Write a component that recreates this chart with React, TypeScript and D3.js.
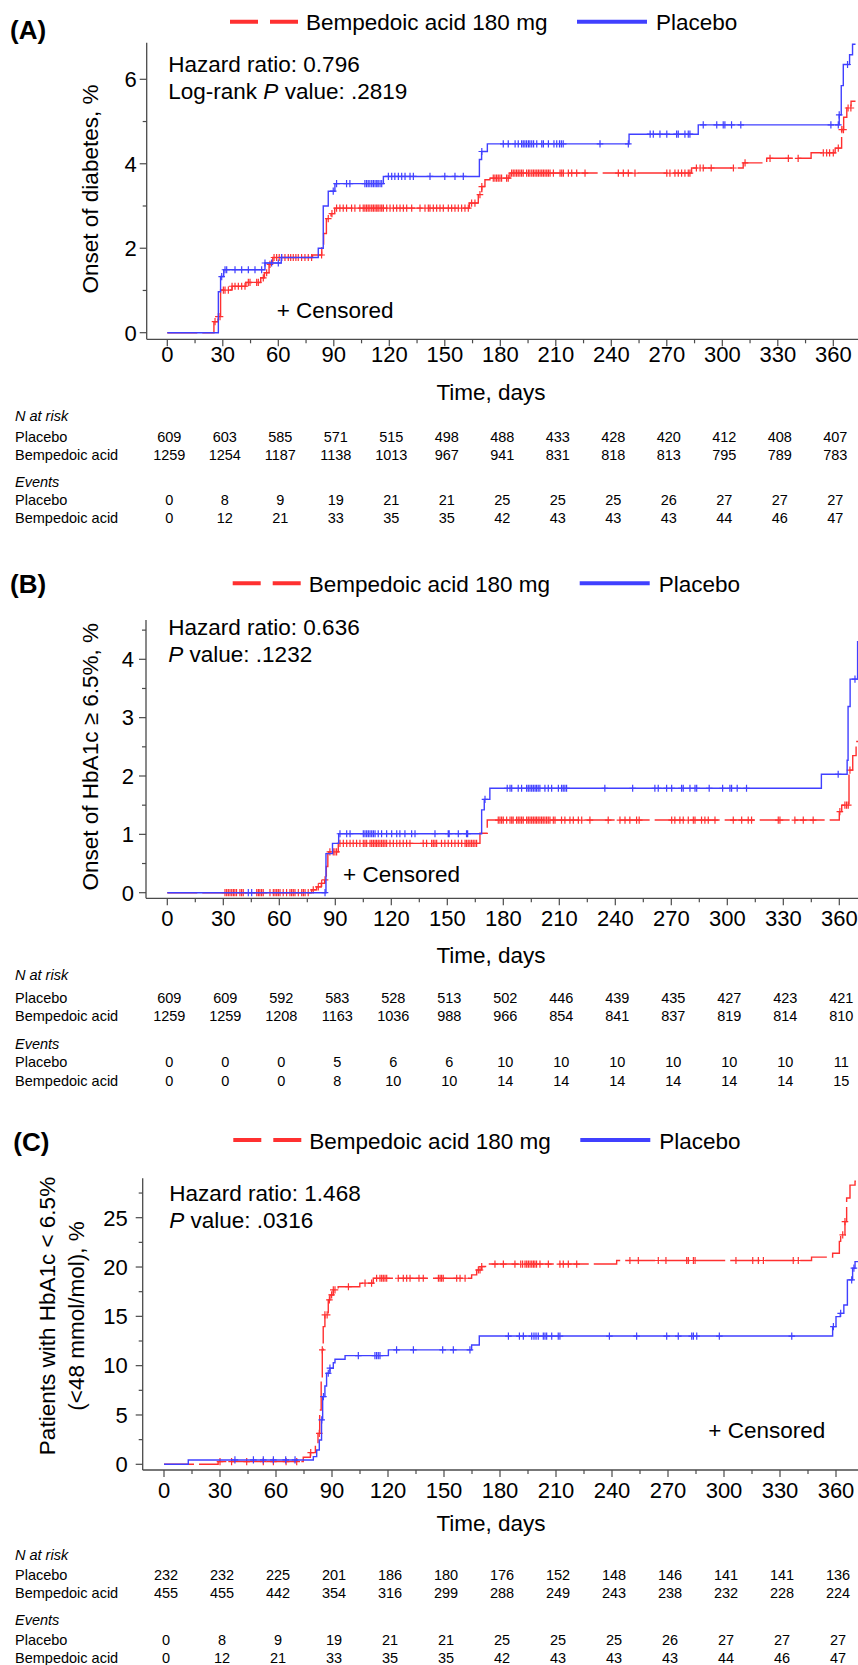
import React from "react";
import * as d3 from "d3";

const W = 858;
const H = 1665;
const FONT = "'Liberation Sans', Arial, Helvetica, sans-serif";
const RED = "#ff3030";
const BLUE = "#4040ff";

const dayTicks = [0, 30, 60, 90, 120, 150, 180, 210, 240, 270, 300, 330, 360];
const minorDayTicks = [15, 45, 75, 105, 135, 165, 195, 225, 255, 285, 315, 345];
const tableRows = ["Placebo", "Bempedoic acid"];

// ---------- Panel A: onset of diabetes ----------
const aPlaceboSteps = [
  [0, 0], [27.6, 0.97], [28.8, 1.33], [30.5, 1.49], [52.8, 1.65], [61.6, 1.78], [81.6, 2.0],
  [84.3, 3.0], [87, 3.35], [90.6, 3.53], [116.8, 3.7], [168.7, 4.1], [169.9, 4.29], [173, 4.47],
  [249.6, 4.7], [287, 4.92], [363.2, 5.16], [364.3, 5.85], [365.4, 6.35], [368.8, 6.58],
  [370.4, 6.83], [372, 6.83],
];
const aBempSteps = [
  [0, 0], [25.2, 0.26], [27.4, 0.38], [28.8, 1.01], [35, 1.1], [42.5, 1.19], [50.5, 1.3],
  [52.5, 1.42], [55, 1.62], [57, 1.78], [78.5, 1.84], [83.5, 2.1], [84.5, 2.35], [86, 2.7],
  [88.5, 2.82], [90.5, 2.95], [163.3, 3.07], [168.1, 3.27], [170, 3.46], [171.7, 3.62],
  [174.4, 3.66], [185.2, 3.78], [283.4, 3.9], [311.3, 4.02], [324, 4.13], [348, 4.26],
  [361, 4.37], [364.5, 4.81], [365.6, 5.1], [367.3, 5.32], [369.6, 5.48], [372, 5.48],
];
const aPlaceboCensor = [
  29.4, 31.2, 32.1, 36.6, 40.2, 43.8, 47.4, 51, 52.8, 56.4, 60, 61.8, 89.7, 91.5, 96.9, 98.7,
  106.8, 107.7, 108.6, 109.5, 110.5, 111.4, 112.3, 113.2, 114, 115, 115.9, 119.5, 121.3, 123,
  124.9, 126.7, 128.5, 131.2, 133, 142, 150, 155.5, 160, 170, 181.6, 184.3, 188, 189.7, 191.5,
  192.4, 193.3, 194.2, 195.2, 196, 197, 198, 199.7, 202.4, 203.3, 206, 209, 210.5, 212, 213,
  214, 233.9, 249.2, 261, 262.7, 266.3, 270, 275.3, 276.2, 279.8, 281.6, 282.5, 289.7, 297,
  300.5, 301.4, 305, 310, 358.7, 362.7, 363.2, 367.7,
];
const aBempCensor = [
  25.8, 27.6, 28.5, 30.3, 31.2, 33, 35, 36.6, 38.4, 40.2, 42, 43.8, 44.7, 48.3, 49.2, 51.9,
  53.7, 55.5, 57.7, 59.1, 60.5, 61.8, 63.6, 65.4, 66.7, 68.1, 69.5, 70.8, 72.6, 74.4, 76.2, 78,
  83.4, 87, 89, 91.5, 93.3, 95.1, 96.9, 99.6, 101.4, 104.1, 105.9, 106.8, 107.7, 108.6, 109.5,
  110.5, 111.4, 112.3, 113.2, 114, 115, 115.9, 116.8, 118.6, 120.4, 122.2, 124, 125.8, 127.6,
  129.4, 132.1, 136.6, 139.3, 141.1, 142, 143.8, 145.6, 147.4, 149.2, 151.9, 153.7, 155.5,
  157.3, 159.1, 160.9, 162.7, 164.5, 166.3, 169, 170, 176.2, 177.1, 178, 178.9, 179.8, 180.7,
  183.4, 184.3, 186.1, 187, 187.9, 188.8, 189.7, 190.6, 191.5, 192.4, 194.2, 195.2, 196, 197,
  197.9, 198.8, 199.7, 200.6, 201.5, 202.4, 203.3, 204.2, 205.1, 206, 206.9, 208.7, 212.3,
  213.2, 214.1, 216.8, 218.6, 221.3, 225.8, 243.8, 246.5, 249.2, 252.8, 270, 271.7, 274.4,
  276.2, 278, 279.8, 281.6, 282.5, 286, 288, 289.7, 294, 306, 312.3, 325.8, 335.7, 341, 354.6,
  356.4, 358, 360, 362.7, 364.6, 365.5, 368, 369.5,
];
const aRiskPlacebo = [609, 603, 585, 571, 515, 498, 488, 433, 428, 420, 412, 408, 407];
const aRiskBemp = [1259, 1254, 1187, 1138, 1013, 967, 941, 831, 818, 813, 795, 789, 783];
const aEventsPlacebo = [0, 8, 9, 19, 21, 21, 25, 25, 25, 26, 27, 27, 27];
const aEventsBemp = [0, 12, 21, 33, 35, 35, 42, 43, 43, 43, 44, 46, 47];

// ---------- Panel B: onset of HbA1c >= 6.5% ----------
const bPlaceboSteps = [
  [0, 0], [85, 0.67], [88.5, 0.845], [91.8, 1.01], [168.4, 1.42], [169.8, 1.6], [172.8, 1.79],
  [350.4, 2.03], [364.2, 2.27], [364.7, 3.19], [365.8, 3.66], [369.8, 4.3], [372, 4.3],
];
const bBempSteps = [
  [0, 0], [77.3, 0.05], [80, 0.1], [82.5, 0.16], [84.3, 0.22], [85.2, 0.45], [86, 0.67],
  [86.5, 0.7], [91.6, 0.845], [167.5, 1.02], [171.4, 1.245], [360, 1.39], [361.3, 1.5],
  [365.2, 2.1], [367.2, 2.35], [369, 2.59], [372, 2.59],
];
const bPlaceboCensor = [
  43.4, 45.2, 84.5, 92.5, 96.1, 97.9, 105, 105.9, 106.8, 107.7, 108.6, 109.5, 110.4, 111.3,
  113, 114.8, 117.5, 120.2, 122.9, 124.6, 127.3, 130.9, 132.7, 143.4, 150.5, 151, 155.9, 160.3,
  160.9, 170.2, 182.1, 183.6, 184.5, 188, 189.8, 192.5, 193.4, 194.3, 195.2, 196.1, 197, 197.8,
  198.7, 199.6, 202.3, 204.1, 205.9, 209.5, 211.2, 212.1, 213, 213.9, 234.4, 249.3, 261.2, 263,
  267.5, 270.2, 275.5, 276.4, 280, 282.7, 283.6, 290.3, 297.5, 301.4, 302.3, 305.3, 310.3,
  359.4, 368.4,
];
const bBempCensor = [
  30.9, 31.8, 32.7, 33.6, 34.5, 35.4, 36.2, 37.1, 38.9, 39.8, 40.7, 47.9, 48.8, 49.6, 50.5,
  51.4, 55, 56.8, 57.7, 58.6, 59.5, 60.4, 62.1, 63.9, 65.7, 66.6, 67.5, 68.4, 70.2, 72, 72.9,
  73.8, 75.5, 78.2, 80.9, 82.7, 84.5, 87.1, 88.9, 89.8, 90.7, 92.5, 94.3, 96.1, 97.9, 99.6,
  101.4, 103.2, 105, 105.9, 106.8, 108.6, 109.5, 110.4, 111.3, 112.1, 113, 113.9, 114.8, 115.7,
  116.6, 117.5, 119.3, 121.1, 122.9, 124.6, 126.4, 128.2, 130, 137.1, 138.9, 141.6, 142.5,
  143.4, 144.3, 146.9, 148.7, 150.5, 152.3, 154.1, 155.9, 157.7, 159.5, 160.3, 161.2, 162.1,
  163, 163.9, 164.8, 165.7, 177.3, 178.2, 179.1, 180, 181.8, 183.6, 184.5, 185.3, 187.1, 188,
  188.9, 189.8, 190.7, 192.5, 193.4, 194.3, 195.2, 196.1, 197, 197.8, 198.7, 199.6, 200.5,
  201.4, 202.3, 203.2, 204.1, 205, 206.8, 207.7, 211.2, 213, 215.7, 217.5, 220.2, 222, 226.4,
  236.2, 242.5, 245.2, 247.8, 251.4, 252.8, 270.2, 271.9, 274.6, 276.4, 279.1, 281.8, 282.7,
  286.2, 288, 289.8, 293.4, 303.2, 307.7, 311.2, 313, 327.3, 328.2, 336.2, 340.7, 346, 360.3,
  363, 363.9, 364.8, 365.7,
];
const bRiskPlacebo = [609, 609, 592, 583, 528, 513, 502, 446, 439, 435, 427, 423, 421];
const bRiskBemp = [1259, 1259, 1208, 1163, 1036, 988, 966, 854, 841, 837, 819, 814, 810];
const bEventsPlacebo = [0, 0, 0, 5, 6, 6, 10, 10, 10, 10, 10, 10, 11];
const bEventsBemp = [0, 0, 0, 8, 10, 10, 14, 14, 14, 14, 14, 14, 15];

// ---------- Panel C: HbA1c < 6.5% ----------
const cPlaceboSteps = [
  [0, 0], [13, 0.44], [80, 0.78], [81.8, 1.45], [83.2, 2.47], [84.4, 4.5], [85, 6.86],
  [86.2, 7.94], [87.1, 9.23], [88.9, 9.74], [90.7, 10.3], [91.6, 10.65], [97, 11.02],
  [120.2, 11.6], [164.8, 12.1], [168.9, 13.0], [358.2, 13.96], [360, 14.97], [362.3, 15.3],
  [364.2, 16.15], [366.1, 18.7], [368.9, 19.88], [370.2, 20.55], [372, 20.55],
];
const cBempSteps = [
  [0, 0], [29, 0.27], [74.6, 0.71], [78.4, 1.18], [81.1, 1.96], [82.5, 3.14], [83.4, 5.5],
  [84.2, 8.55], [84.8, 11.6], [85.3, 13.96], [86.2, 15.15], [88, 16.67], [88.9, 17.17],
  [90.7, 17.68], [93.3, 18.0], [104.9, 18.36], [112.1, 18.86], [164.8, 19.2], [167.5, 19.7],
  [170.2, 20.05], [173.8, 20.3], [242.5, 20.66], [346.9, 21.0], [358.2, 21.4], [361.8, 22.6],
  [362.5, 23.25], [364.8, 24.6], [365.7, 27.0], [367.5, 28.3], [370.2, 28.7], [372, 28.7],
];
const cPlaceboCensor = [
  38, 47.9, 53.2, 58.6, 65.2, 70.2, 84.5, 85.4, 88, 88.9, 104.1, 113, 113.9, 114.8, 115.7,
  124.6, 133.6, 149.3, 155, 163.9, 184.5, 190.4, 192.5, 197, 198.2, 199.3, 200.5, 203.2, 204.1,
  205, 207.7, 211.2, 212.1, 238.6, 253.2, 269.3, 275.5, 282.7, 283.6, 285.4, 297.5, 336.3,
  358.6, 362.5, 368.4, 369.6,
];
const cBempCensor = [
  30, 36.2, 44.3, 53.2, 58.6, 65.4, 71.1, 78.6, 83.2, 84.8, 86.2, 87.4, 88.6, 89.8, 90.7, 91.6,
  98.8, 107.7, 111.2, 113.9, 115.7, 116.6, 117.5, 118.4, 119.3, 125.5, 128.2, 130, 131.8, 136.6,
  138.9, 147, 147.9, 148.7, 149.6, 156.8, 158.6, 161.3, 168.4, 169.3, 170.2, 177.3, 181.8, 188,
  191.1, 192.1, 193.4, 194.3, 195.2, 196.1, 197, 197.9, 198.7, 199.6, 201.4, 205.9, 212.1,
  213.9, 216.6, 221.1, 249.6, 254.1, 264.8, 268.9, 280, 280.9, 283.6, 284.5, 306.4, 315.4,
  318.4, 321.1, 337.1, 339.8, 363.6, 364.8,
];
const cRiskPlacebo = [232, 232, 225, 201, 186, 180, 176, 152, 148, 146, 141, 141, 136];
const cRiskBemp = [455, 455, 442, 354, 316, 299, 288, 249, 243, 238, 232, 228, 224];
const cEventsPlacebo = [0, 8, 9, 19, 21, 21, 25, 25, 25, 26, 27, 27, 27];
const cEventsBemp = [0, 12, 21, 33, 35, 35, 42, 43, 43, 43, 44, 46, 47];

const panels = [
  {
    tag: "(A)", tagX: 10, tagY: 39.3,
    legendX: 230, legendLineY: 21.7, legendY: 29.5,
    axisX: 146.7, axisTop: 42.7, axisY: 339.3,
    x0: 167.3, x360: 833.3,
    yDomain: [0, 6], yRange: [332.7, 79.3],
    yMajor: [0, 2, 4, 6], yMinor: [1, 3, 5], yLabelGap: 10,
    yTitle: ["Onset of diabetes, %"], yTitleX: [97.5], yTitleY: 189,
    hr: "Hazard ratio: 0.796", pPrefix: "Log-rank ", pValue: ".2819",
    hrX: 168.3, hrY: [72, 99],
    censX: 276.7, censY: 318.3,
    tickLabelY: 362, timeY: 400,
    rowsY: [421, 441.5, 459.5, 487, 505, 523],
    placebo: aPlaceboSteps, bemp: aBempSteps,
    placeboCensor: aPlaceboCensor, bempCensor: aBempCensor,
    risk: [aRiskPlacebo, aRiskBemp], events: [aEventsPlacebo, aEventsBemp],
  },
  {
    tag: "(B)", tagX: 10, tagY: 593.3,
    legendX: 232.7, legendLineY: 583.3, legendY: 591.7,
    axisX: 146, axisTop: 620, axisY: 898.3,
    x0: 167.3, x360: 839.3,
    yDomain: [0, 4], yRange: [892.7, 659.3],
    yMajor: [0, 1, 2, 3, 4], yMinor: [0.5, 1.5, 2.5, 3.5, 4.5], yLabelGap: 12,
    yTitle: ["Onset of HbA1c \u2265 6.5%, %"], yTitleX: [98], yTitleY: 756.7,
    hr: "Hazard ratio: 0.636", pPrefix: "", pValue: ".1232",
    hrX: 168.3, hrY: [635, 661.7],
    censX: 343, censY: 881.7,
    tickLabelY: 926, timeY: 963,
    rowsY: [980, 1003, 1021, 1049, 1067, 1086],
    placebo: bPlaceboSteps, bemp: bBempSteps,
    placeboCensor: bPlaceboCensor, bempCensor: bBempCensor,
    risk: [bRiskPlacebo, bRiskBemp], events: [bEventsPlacebo, bEventsBemp],
  },
  {
    tag: "(C)", tagX: 13.3, tagY: 1150.7,
    legendX: 233.3, legendLineY: 1140, legendY: 1149.3,
    axisX: 142.7, axisTop: 1178.3, axisY: 1470,
    x0: 164, x360: 836,
    yDomain: [0, 25], yRange: [1464.3, 1217.7],
    yMajor: [0, 5, 10, 15, 20, 25], yMinor: [2.5, 7.5, 12.5, 17.5, 22.5, 27.5], yLabelGap: 15,
    yTitle: ["Patients with HbA1c < 6.5%", "(<48 mmol/mol), %"], yTitleX: [55, 84], yTitleY: 1316,
    hr: "Hazard ratio: 1.468", pPrefix: "", pValue: ".0316",
    hrX: 169.3, hrY: [1201, 1228.3],
    censX: 708.3, censY: 1438.3,
    tickLabelY: 1498, timeY: 1531,
    rowsY: [1560, 1580, 1598, 1625, 1645, 1663],
    placebo: cPlaceboSteps, bemp: cBempSteps,
    placeboCensor: cPlaceboCensor, bempCensor: cBempCensor,
    risk: [cRiskPlacebo, cRiskBemp], events: [cEventsPlacebo, cEventsBemp],
  },
];

function valueAt(steps, day) {
  let v = steps[0][1];
  for (const [d, val] of steps) if (d <= day) v = val;
  return v;
}

function Panel({ p }) {
  const x = d3.scaleLinear().domain([0, 360]).range([p.x0, p.x360]);
  const y = d3.scaleLinear().domain(p.yDomain).range(p.yRange);
  const line = d3
    .line()
    .x((d) => x(d[0]))
    .y((d) => y(d[1]))
    .curve(d3.curveStepAfter);

  // censor marks as small "+" on the curve
  const cross = (steps, days) =>
    days
      .map((d) => {
        const cx = x(d);
        const cy = y(valueAt(steps, d));
        return `M${cx - 3.3},${cy}H${cx + 3.3}M${cx},${cy - 3.6}V${cy + 3.6}`;
      })
      .join("");

  const axisColor = "#4a4a4a";
  const lx = p.legendX;

  return (
    <g fontFamily={FONT}>
      <text x={p.tagX} y={p.tagY} fontSize={26} fontWeight="bold">{p.tag}</text>

      {/* legend */}
      <line x1={lx} x2={lx + 68} y1={p.legendLineY} y2={p.legendLineY} stroke={RED}
        strokeWidth={4} strokeDasharray="28 12" />
      <text x={lx + 76} y={p.legendY} fontSize={22.5}>Bempedoic acid 180 mg</text>
      <line x1={lx + 347} x2={lx + 417} y1={p.legendLineY} y2={p.legendLineY} stroke={BLUE}
        strokeWidth={4} />
      <text x={lx + 426} y={p.legendY} fontSize={22.5}>Placebo</text>

      {/* axes */}
      <line x1={p.axisX} x2={p.axisX} y1={p.axisTop} y2={p.axisY} stroke={axisColor} strokeWidth={1.3} />
      <line x1={p.axisX} x2={W} y1={p.axisY} y2={p.axisY} stroke={axisColor} strokeWidth={1.3} />
      {p.yMajor.map((t) => (
        <g key={"ym" + t}>
          <line x1={p.axisX - 7} x2={p.axisX} y1={y(t)} y2={y(t)} stroke={axisColor} strokeWidth={1.2} />
          <text x={p.axisX - p.yLabelGap} y={y(t) + 7.8} fontSize={22} textAnchor="end">{t}</text>
        </g>
      ))}
      {p.yMinor
        .filter((t) => y(t) >= p.axisTop)
        .map((t) => (
          <line key={"yn" + t} x1={p.axisX - 4} x2={p.axisX} y1={y(t)} y2={y(t)} stroke={axisColor} strokeWidth={1.2} />
        ))}
      {dayTicks.map((t) => (
        <g key={"xm" + t}>
          <line x1={x(t)} x2={x(t)} y1={p.axisY} y2={p.axisY + 7} stroke={axisColor} strokeWidth={1.2} />
          <text x={x(t)} y={p.tickLabelY} fontSize={22} textAnchor="middle">{t}</text>
        </g>
      ))}
      {minorDayTicks.map((t) => (
        <line key={"xn" + t} x1={x(t)} x2={x(t)} y1={p.axisY} y2={p.axisY + 4} stroke={axisColor} strokeWidth={1.2} />
      ))}
      <text x={491} y={p.timeY} fontSize={22.5} textAnchor="middle">Time, days</text>

      {p.yTitle.map((t, i) => (
        <text key={t} transform={`translate(${p.yTitleX[i]},${p.yTitleY}) rotate(-90)`}
          fontSize={22.5} textAnchor="middle">{t}</text>
      ))}

      {/* annotations */}
      <text x={p.hrX} y={p.hrY[0]} fontSize={22.5}>{p.hr}</text>
      <text x={p.hrX} y={p.hrY[1]} fontSize={22.5}>
        {p.pPrefix}<tspan fontStyle="italic">P</tspan> value: {p.pValue}
      </text>
      <text x={p.censX} y={p.censY} fontSize={22.5}>+ Censored</text>

      {/* curves */}
      <path d={line(p.bemp)} fill="none" stroke={RED} strokeWidth={1.4} strokeDasharray="30 5" />
      <path d={cross(p.bemp, p.bempCensor)} fill="none" stroke={RED} strokeWidth={1.2} />
      <path d={line(p.placebo)} fill="none" stroke={BLUE} strokeWidth={1.4} />
      <path d={cross(p.placebo, p.placeboCensor)} fill="none" stroke={BLUE} strokeWidth={1.2} />

      {/* risk table */}
      <text x={15} y={p.rowsY[0]} fontSize={14.5} fontStyle="italic">N at risk</text>
      <text x={15} y={p.rowsY[3]} fontSize={14.5} fontStyle="italic">Events</text>
      {tableRows.map((r, i) => (
        <g key={r}>
          <text x={15} y={p.rowsY[1 + i]} fontSize={14.5}>{r}</text>
          <text x={15} y={p.rowsY[4 + i]} fontSize={14.5}>{r}</text>
          {p.risk[i].map((v, j) => (
            <text key={"r" + j} x={x(dayTicks[j]) + 2} y={p.rowsY[1 + i]} fontSize={14.5} textAnchor="middle">{v}</text>
          ))}
          {p.events[i].map((v, j) => (
            <text key={"e" + j} x={x(dayTicks[j]) + 2} y={p.rowsY[4 + i]} fontSize={14.5} textAnchor="middle">{v}</text>
          ))}
        </g>
      ))}
    </g>
  );
}

export default function App() {
  return (
    <>
      <style>{`body{margin:0}`}</style>
      <svg width={W} height={H} viewBox={`0 0 ${W} ${H}`} style={{ display: "block", background: "#fff" }}>
        <rect width={W} height={H} fill="#fff" />
        {panels.map((p) => (
          <Panel key={p.tag} p={p} />
        ))}
      </svg>
    </>
  );
}
